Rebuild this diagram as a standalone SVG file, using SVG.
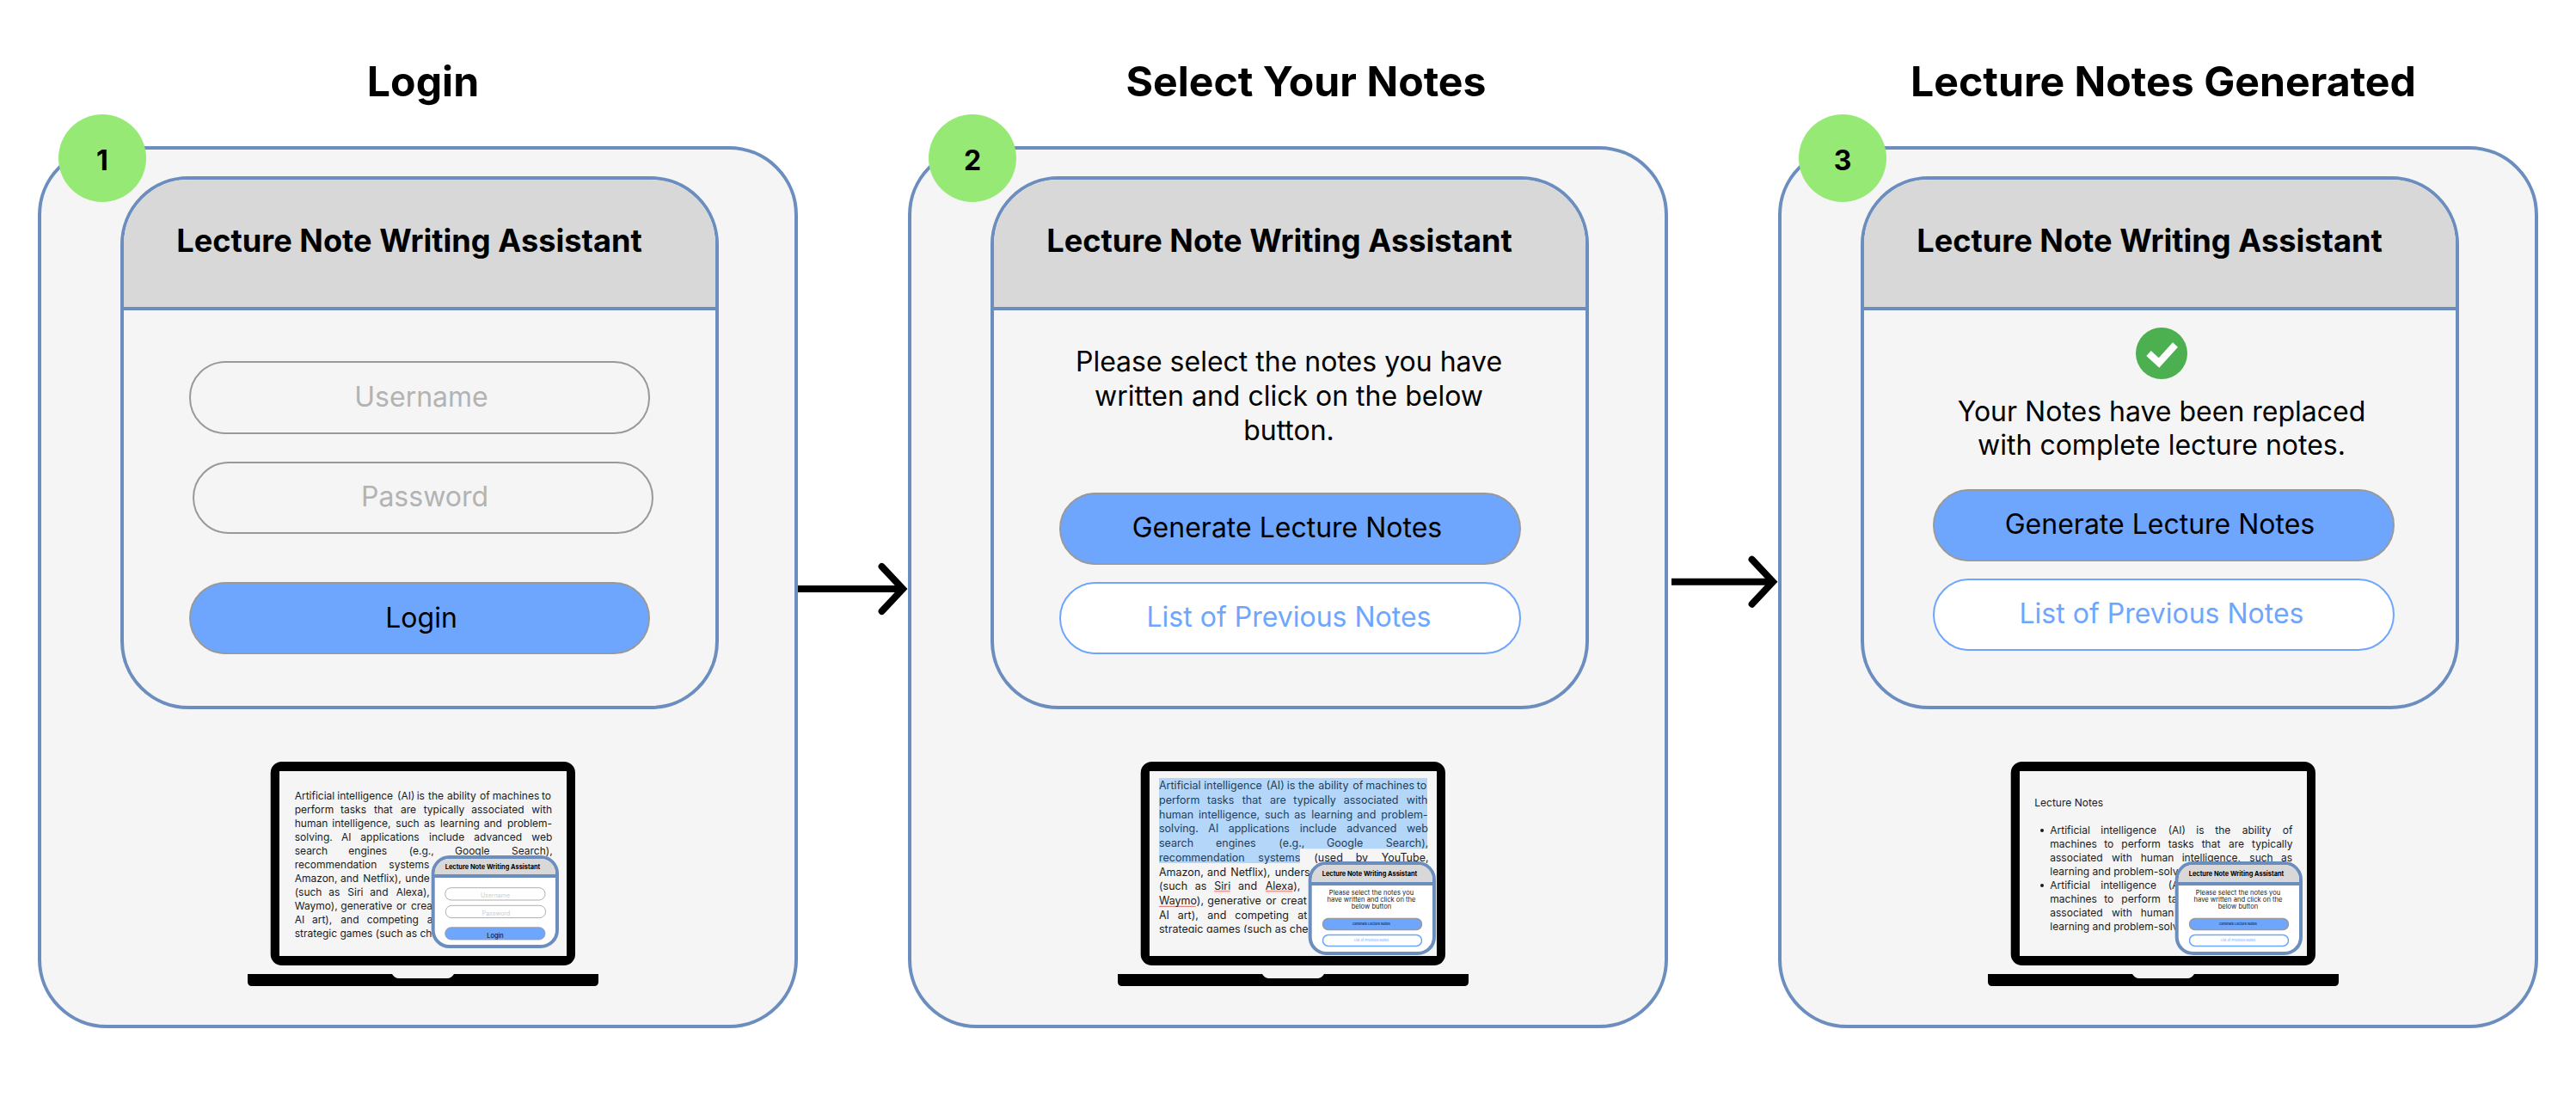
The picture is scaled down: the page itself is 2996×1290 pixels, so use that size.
<svg xmlns="http://www.w3.org/2000/svg" width="2996" height="1290" viewBox="0 0 2996 1290">
<style>
text{font-family:Inter,"Liberation Sans",sans-serif;fill:#000}
.title{font-size:48.2px;font-weight:700;text-anchor:middle}
.head{font-size:36.2px;font-weight:700;text-anchor:middle}
.num{font-size:32px;font-weight:700;text-anchor:middle}
.body{font-size:32px;text-anchor:middle}
.ph{fill:#b3b3b3}
.link{fill:#6ea6fe}
.outer{fill:#f5f5f5;stroke:#6c8ebf;stroke-width:4}
.hdr{fill:#d8d8d8}
.rule{stroke:#6c8ebf;stroke-width:4;fill:none}
.badge{fill:#97e975}
.field{fill:#f5f5f5;stroke:#999;stroke-width:2}
.primary{fill:#6ea6fe;stroke:#999;stroke-width:2}
.secondary{fill:#fff;stroke:#6ea6fe;stroke-width:2}
.bezel{fill:#000}
.screen{fill:#f5f5f5}
.doc{font-size:12px;fill:#1a1a1a}
.doc2{font-size:12.5px;fill:#1a1a1a}
.sel{fill:#1f3d5c}
.selbg{fill:#b4d7f9}
.mini{fill:#fff;stroke:#6c8ebf;stroke-width:4}
.mh{font-size:7.4px;font-weight:700;text-anchor:middle}
.mb{font-size:7.6px;text-anchor:middle;fill:#222}
.mph{font-size:7px;text-anchor:middle;fill:#ccc}
.mbt{font-size:3.9px;text-anchor:middle}
.mfield{fill:#fff;stroke:#999;stroke-width:.8}
.mprim{fill:#6ea6fe;stroke:#999;stroke-width:.8}
.mprim2{fill:#6ea6fe;stroke:#999;stroke-width:1.5}
.msec{fill:#fff;stroke:#6ea6fe;stroke-width:1.5}
.conn{fill:none;stroke:#000;stroke-width:8;marker-end:url(#head)}
</style>
<defs>
<marker id="head" markerUnits="userSpaceOnUse" markerWidth="44" markerHeight="66" refX="33" refY="33" orient="auto" overflow="visible">
<path d="M8.6 7L33 33L8.6 59" fill="none" stroke="#000" stroke-width="8" stroke-linecap="round"/>
</marker>
<pattern id="wave" patternUnits="userSpaceOnUse" width="4" height="3"><path d="M0 2L1 .8L2 2L3 .8L4 2" fill="none" stroke="#d8423a" stroke-width=".7"/></pattern>
<clipPath id="clip2"><rect x="1340" y="900" width="330" height="185"/></clipPath>
</defs>
<rect width="2996" height="1290" fill="#fff"/>

<g id="panel-login">
<text class="title" x="492" y="112">Login</text>
<rect class="outer" x="46" y="172" width="880" height="1022" rx="78"/>
<rect class="outer" x="142" y="207" width="692" height="616" rx="77"/>
<path class="hdr" d="M144 359V284A75 75 0 0 1 219 209H757A75 75 0 0 1 832 284V359Z"/>
<path class="rule" d="M142 359H834"/>
<text class="head" x="476" y="293">Lecture Note Writing Assistant</text>
<rect class="field" x="221" y="421" width="534" height="83" rx="41"/>
<text class="body ph" x="490" y="473">Username</text>
<rect class="field" x="225" y="538" width="534" height="82" rx="41"/>
<text class="body ph" x="494" y="589">Password</text>
<rect class="primary" x="221" y="678" width="534" height="82" rx="41"/>
<text class="body" x="490" y="730">Login</text>
<circle class="badge" cx="119" cy="184" r="51"/>
<text class="num" x="119" y="198">1</text>
<g id="laptop-1">
<rect class="bezel" x="314.7" y="886" width="354.3" height="237" rx="13"/>
<rect class="screen" x="325" y="897" width="334" height="215"/>
<path class="bezel" d="M288 1133H456Q459 1138 464 1138H520Q525 1138 528 1133H696V1142Q696 1147 691 1147H293Q288 1147 288 1142Z"/>
<text class="doc" y="930"><tspan x="342.7">Artificial </tspan><tspan x="392.3">intelligence </tspan><tspan x="462">(AI) </tspan><tspan x="484.7">is </tspan><tspan x="498">the </tspan><tspan x="520">ability </tspan><tspan x="558">of </tspan><tspan x="572.7">machines </tspan><tspan x="630">to</tspan></text>
<text class="doc" y="946"><tspan x="342.7">perform </tspan><tspan x="396">tasks </tspan><tspan x="435">that </tspan><tspan x="466">are </tspan><tspan x="492.7">typically </tspan><tspan x="548.3">associated </tspan><tspan x="618.3">with</tspan></text>
<text class="doc" y="962"><tspan x="342.7">human </tspan><tspan x="386.3">intelligence, </tspan><tspan x="460.3">such </tspan><tspan x="493">as </tspan><tspan x="512">learning </tspan><tspan x="562.7">and </tspan><tspan x="590">problem-</tspan></text>
<text class="doc" y="978"><tspan x="342.7">solving. </tspan><tspan x="397">AI </tspan><tspan x="419.3">applications </tspan><tspan x="499">include </tspan><tspan x="551.3">advanced </tspan><tspan x="618.3">web</tspan></text>
<text class="doc" y="994"><tspan x="342.7">search </tspan><tspan x="405.3">engines </tspan><tspan x="475.7">(e.g., </tspan><tspan x="529">Google </tspan><tspan x="595">Search),</tspan></text>
<text class="doc" y="1010"><tspan x="342.7">recommendation </tspan><tspan x="452.3">systems</tspan></text>
<text class="doc" y="1026"><tspan x="342.7">Amazon, </tspan><tspan x="396">and </tspan><tspan x="422.3">Netflix), </tspan><tspan x="471.3">unde</tspan></text>
<text class="doc" y="1042"><tspan x="342.7">(such </tspan><tspan x="382.3">as </tspan><tspan x="404.3">Siri </tspan><tspan x="430.3">and </tspan><tspan x="460.7">Alexa),</tspan></text>
<text class="doc" y="1058"><tspan x="342.7">Waymo), </tspan><tspan x="396.3">generative </tspan><tspan x="461">or </tspan><tspan x="478">crea</tspan></text>
<text class="doc" y="1074"><tspan x="342.7">AI </tspan><tspan x="363">art), </tspan><tspan x="396.3">and </tspan><tspan x="426.7">competing </tspan><tspan x="496.7">a</tspan></text>
<text class="doc" x="342.7" y="1090">strategic games (such as che</text>
<g id="mini-1">
<rect class="mini" x="503.7" y="997" width="144.3" height="104" rx="19"/>
<path class="hdr" d="M505.7 1019V1016A17 17 0 0 1 522.7 999H629A17 17 0 0 1 646 1016V1019Z"/>
<path class="rule" d="M503.7 1019H648"/>
<text class="mh" x="573" y="1011">Lecture Note Writing Assistant</text>
<rect class="mfield" x="517.7" y="1032.7" width="116.3" height="14.3" rx="7"/>
<text class="mph" x="576" y="1044">Username</text>
<rect class="mfield" x="518.3" y="1053.3" width="116.3" height="14.3" rx="7"/>
<text class="mph" x="577" y="1065">Password</text>
<rect class="mprim" x="517.7" y="1078.7" width="116.3" height="14.3" rx="7"/>
<text class="mbt" style="font-size:7.4px" x="576" y="1090.5">Login</text>
</g>
</g>
</g>

<g id="panel-select">
<text class="title" x="1519" y="112">Select Your Notes</text>
<rect class="outer" x="1058" y="172" width="880" height="1022" rx="78"/>
<rect class="outer" x="1154" y="207" width="692" height="616" rx="77"/>
<path class="hdr" d="M1156 359V284A75 75 0 0 1 1231 209H1769A75 75 0 0 1 1844 284V359Z"/>
<path class="rule" d="M1154 359H1846"/>
<text class="head" x="1488" y="293">Lecture Note Writing Assistant</text>
<text class="body" x="1499" y="432">Please select the notes you have</text>
<text class="body" x="1499" y="472">written and click on the below</text>
<text class="body" x="1499" y="512">button.</text>
<rect class="primary" x="1233" y="574" width="535" height="82" rx="41"/>
<text class="body" x="1497" y="625">Generate Lecture Notes</text>
<rect class="secondary" x="1233" y="678" width="535" height="82" rx="41"/>
<text class="body link" x="1499" y="729">List of Previous Notes</text>
<circle class="badge" cx="1131" cy="184" r="51"/>
<text class="num" x="1131" y="198">2</text>
<g id="laptop-2">
<rect class="bezel" x="1326.7" y="886" width="354.3" height="237" rx="13"/>
<rect class="screen" x="1337" y="897" width="334" height="215"/>
<path class="bezel" d="M1300 1133H1468Q1471 1138 1476 1138H1532Q1537 1138 1540 1133H1708V1142Q1708 1147 1703 1147H1305Q1300 1147 1300 1142Z"/>
<path class="selbg" d="M1348 905H1660V987.3H1512V1004H1348Z"/>
<rect x="1412.3" y="1036" width="18.5" height="3" fill="url(#wave)"/>
<rect x="1471.7" y="1036" width="31.5" height="3" fill="url(#wave)"/>
<rect x="1348" y="1052.7" width="42.5" height="3" fill="url(#wave)"/>
<g clip-path="url(#clip2)">
<text class="doc2 sel" y="918.3"><tspan x="1348">Artificial </tspan><tspan x="1400.3">intelligence </tspan><tspan x="1472.7">(AI) </tspan><tspan x="1496.7">is </tspan><tspan x="1510">the </tspan><tspan x="1533.3">ability </tspan><tspan x="1573.3">of </tspan><tspan x="1588.3">machines </tspan><tspan x="1647.7">to</tspan></text>
<text class="doc2 sel" y="935"><tspan x="1348">perform </tspan><tspan x="1404">tasks </tspan><tspan x="1444.7">that </tspan><tspan x="1477">are </tspan><tspan x="1504.3">typically </tspan><tspan x="1562.7">associated </tspan><tspan x="1635.7">with</tspan></text>
<text class="doc2 sel" y="951.7"><tspan x="1348">human </tspan><tspan x="1394">intelligence, </tspan><tspan x="1471">such </tspan><tspan x="1505.3">as </tspan><tspan x="1525.3">learning </tspan><tspan x="1578.3">and </tspan><tspan x="1606.3">problem-</tspan></text>
<text class="doc2 sel" y="968.4"><tspan x="1348">solving. </tspan><tspan x="1405.3">AI </tspan><tspan x="1428.7">applications </tspan><tspan x="1511.7">include </tspan><tspan x="1566.3">advanced </tspan><tspan x="1636">web</tspan></text>
<text class="doc2 sel" y="985.1"><tspan x="1348">search </tspan><tspan x="1414">engines </tspan><tspan x="1487.3">(e.g., </tspan><tspan x="1543">Google </tspan><tspan x="1611.7">Search),</tspan></text>
<text class="doc2" y="1001.8"><tspan class="sel" x="1348">recommendation </tspan><tspan class="sel" x="1463.3">systems </tspan><tspan x="1528.3">(used </tspan><tspan x="1576.7">by </tspan><tspan x="1606.7">YouTube,</tspan></text>
<text class="doc2" y="1018.5"><tspan x="1348">Amazon, </tspan><tspan x="1404">and </tspan><tspan x="1431.3">Netflix), </tspan><tspan x="1482.7">unders</tspan></text>
<text class="doc2" y="1035.2"><tspan x="1348">(such </tspan><tspan x="1389.7">as </tspan><tspan x="1412.3">Siri </tspan><tspan x="1440">and </tspan><tspan x="1471.7">Alexa),</tspan></text>
<text class="doc2" y="1051.9"><tspan x="1348">Waymo), </tspan><tspan x="1404.3">generative </tspan><tspan x="1472.3">or </tspan><tspan x="1489.7">creat</tspan></text>
<text class="doc2" y="1068.6"><tspan x="1348">AI </tspan><tspan x="1369.7">art), </tspan><tspan x="1404.3">and </tspan><tspan x="1436.3">competing </tspan><tspan x="1509.3">at</tspan></text>
<text class="doc2" x="1348" y="1085.3">strategic games (such as che</text>
</g>
<g id="mini-2">
<rect class="mini" x="1523.7" y="1004" width="144.3" height="105" rx="19"/>
<path class="hdr" d="M1525.7 1028V1023A17 17 0 0 1 1542.7 1006H1649A17 17 0 0 1 1666 1023V1028Z"/>
<path class="rule" d="M1523.7 1028H1668"/>
<text class="mh" x="1593" y="1019">Lecture Note Writing Assistant</text>
<text class="mb" x="1595" y="1041">Please select the notes you</text>
<text class="mb" x="1595" y="1049">have written and click on the</text>
<text class="mb" x="1595" y="1057">below button</text>
<rect class="mprim2" x="1538.5" y="1068.5" width="115" height="13" rx="6.5"/>
<text class="mbt" x="1595" y="1076">Generate Lecture Notes</text>
<rect class="msec" x="1538.5" y="1087.5" width="115" height="13" rx="6.5"/>
<text class="mbt link" x="1595" y="1094.5">List of Previous Notes</text>
</g>
</g>
</g>

<g id="panel-generated">
<text class="title" x="2516" y="112">Lecture Notes Generated</text>
<rect class="outer" x="2070" y="172" width="880" height="1022" rx="78"/>
<rect class="outer" x="2166" y="207" width="692" height="616" rx="77"/>
<path class="hdr" d="M2168 359V284A75 75 0 0 1 2243 209H2781A75 75 0 0 1 2856 284V359Z"/>
<path class="rule" d="M2166 359H2858"/>
<text class="head" x="2500" y="293">Lecture Note Writing Assistant</text>
<g id="check-icon"><circle cx="2514" cy="411" r="30" fill="#4caf50"/><path d="M2499 411L2511 422L2530 401" fill="none" stroke="#fff" stroke-width="8"/></g>
<text class="body" x="2514" y="490">Your Notes have been replaced</text>
<text class="body" x="2514" y="529">with complete lecture notes.</text>
<rect class="primary" x="2249" y="570" width="535" height="82" rx="41"/>
<text class="body" x="2512" y="621">Generate Lecture Notes</text>
<rect class="secondary" x="2249" y="674" width="535" height="82" rx="41"/>
<text class="body link" x="2514" y="725">List of Previous Notes</text>
<circle class="badge" cx="2143" cy="184" r="51"/>
<text class="num" x="2143" y="198">3</text>
<g id="laptop-3">
<rect class="bezel" x="2338.7" y="886" width="354.3" height="237" rx="13"/>
<rect class="screen" x="2349" y="897" width="334" height="215"/>
<path class="bezel" d="M2312 1133H2480Q2483 1138 2488 1138H2544Q2549 1138 2552 1133H2720V1142Q2720 1147 2715 1147H2317Q2312 1147 2312 1142Z"/>
<text class="doc" x="2366.3" y="937.7">Lecture Notes</text>
<circle cx="2375" cy="966" r="2" fill="#1a1a1a"/>
<circle cx="2375" cy="1030" r="2" fill="#1a1a1a"/>
<text class="doc" y="970"><tspan x="2384.3">Artificial </tspan><tspan x="2443.3">intelligence </tspan><tspan x="2521.7">(AI) </tspan><tspan x="2554.3">is </tspan><tspan x="2576.3">the </tspan><tspan x="2607.7">ability </tspan><tspan x="2654.7">of</tspan></text>
<text class="doc" y="986"><tspan x="2384.3">machines </tspan><tspan x="2447.3">to </tspan><tspan x="2467.3">perform </tspan><tspan x="2521.7">tasks </tspan><tspan x="2560.7">that </tspan><tspan x="2592">are </tspan><tspan x="2619">typically</tspan></text>
<text class="doc" y="1002"><tspan x="2384.3">associated </tspan><tspan x="2456">with </tspan><tspan x="2489.7">human </tspan><tspan x="2537.7">intelligence, </tspan><tspan x="2616.3">such </tspan><tspan x="2653">as</tspan></text>
<text class="doc" x="2384.3" y="1018">learning and problem-solv</text>
<text class="doc" y="1034"><tspan x="2384.3">Artificial </tspan><tspan x="2443.3">intelligence </tspan><tspan x="2521.7">(A</tspan></text>
<text class="doc" y="1050"><tspan x="2384.3">machines </tspan><tspan x="2447.3">to </tspan><tspan x="2467.3">perform </tspan><tspan x="2521.7">ta</tspan></text>
<text class="doc" y="1066"><tspan x="2384.3">associated </tspan><tspan x="2456">with </tspan><tspan x="2489.7">human</tspan></text>
<text class="doc" x="2384.3" y="1082">learning and problem-solv</text>
<g id="mini-3">
<rect class="mini" x="2531.7" y="1004" width="144.3" height="105" rx="19"/>
<path class="hdr" d="M2533.7 1028V1023A17 17 0 0 1 2550.7 1006H2657A17 17 0 0 1 2674 1023V1028Z"/>
<path class="rule" d="M2531.7 1028H2676"/>
<text class="mh" x="2601" y="1019">Lecture Note Writing Assistant</text>
<text class="mb" x="2603" y="1041">Please select the notes you</text>
<text class="mb" x="2603" y="1049">have written and click on the</text>
<text class="mb" x="2603" y="1057">below button</text>
<rect class="mprim2" x="2546.5" y="1068.5" width="115" height="13" rx="6.5"/>
<text class="mbt" x="2603" y="1076">Generate Lecture Notes</text>
<rect class="msec" x="2546.5" y="1087.5" width="115" height="13" rx="6.5"/>
<text class="mbt link" x="2603" y="1094.5">List of Previous Notes</text>
</g>
</g>
</g>

<g id="connectors">
<path class="conn" d="M928 685H1050"/>
<path class="conn" d="M1944 676.7H2062"/>
</g>
</svg>
